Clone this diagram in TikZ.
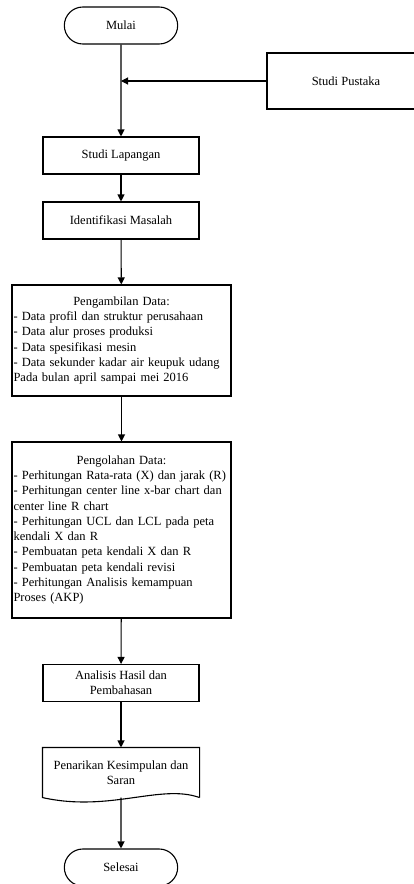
\documentclass[tikz,border=0pt]{standalone}
\usepackage{fontspec}
\setmainfont{Liberation Serif}
\usepackage{tikz}
\usetikzlibrary{positioning, arrows.meta, shapes.misc}
\tikzset{
  terminal/.style={draw, rounded rectangle, minimum width=120pt, minimum height=37pt, line width=1.1pt},
  proses/.style={draw, rectangle, minimum width=156pt, minimum height=37pt, align=center, line width=1.1pt},
  datablok/.style={draw, rectangle, text width=216pt, inner xsep=1.5pt, align=left, line width=1.1pt},
  panah/.style={-{Triangle[length=7pt, width=7pt]}, line width=1.1pt}
}

\begin{document}
\begin{tikzpicture}[x=1pt, y=-1pt, font=\fontsize{12.5}{15.3}\selectfont]
  \clip (0,0) rectangle (414,884);
  \node[terminal] (mulai) at (121,25.5) {Mulai};
  \node[proses, minimum width=158pt, minimum height=56pt] (pustaka) at (346,81) {Studi Pustaka};
  \node[proses] (lapangan) at (121,155.5) {Studi Lapangan};
  \node[proses] (identifikasi) at (121,220.5) {Identifikasi Masalah};
  \node[datablok, minimum height=111pt] (ambil) at (121.5,340.5) {%
    {\centering Pengambilan Data:\par}\raggedright
    - Data profil dan struktur perusahaan\\
    - Data alur proses produksi\\
    - Data spesifikasi mesin\\
    - Data sekunder kadar air keupuk udang\\
    Pada bulan april sampai mei 2016};
  \node[datablok, minimum height=176pt] (olah) at (121.5,530) {%
    {\centering Pengolahan Data:\par}\raggedright
    - Perhitungan Rata-rata (X) dan jarak (R)\\
    - Perhitungan center line x-bar chart dan\\
    center line R chart\\
    - Perhitungan UCL dan LCL pada peta\\
    kendali X dan R\\
    - Pembuatan peta kendali X dan R\\
    - Pembuatan peta kendali revisi\\
    - Perhitungan Analisis kemampuan\\
    Proses (AKP)};
  \node[proses] (analisis) at (121,683) {Analisis Hasil dan\\Pembahasan};
  \node[proses, draw=none, minimum height=49pt] (tarik) at (121,772.5) {Penarikan Kesimpulan dan\\Saran};
  \draw[line width=1.1pt] (tarik.south east) -- (tarik.north east) -- (tarik.north west) -- (tarik.south west)
    .. controls +(67,15) and +(-39,-14) .. (tarik.south east);
  \node[terminal] (selesai) at (121,867.5) {Selesai};
  \coordinate (temu) at (mulai.south |- pustaka.west);

  \draw[panah] (mulai) -- (lapangan);
  \draw[panah] (pustaka) -- (temu);
  \draw[panah] (lapangan) -- (identifikasi);
  \draw[panah] (identifikasi) -- (ambil);
  \draw[panah] (ambil) -- (olah);
  \draw[panah] (olah) -- (analisis);
  \draw[panah] (analisis) -- (tarik);
  \draw[panah] (tarik) -- (selesai);
\end{tikzpicture}
\end{document}
